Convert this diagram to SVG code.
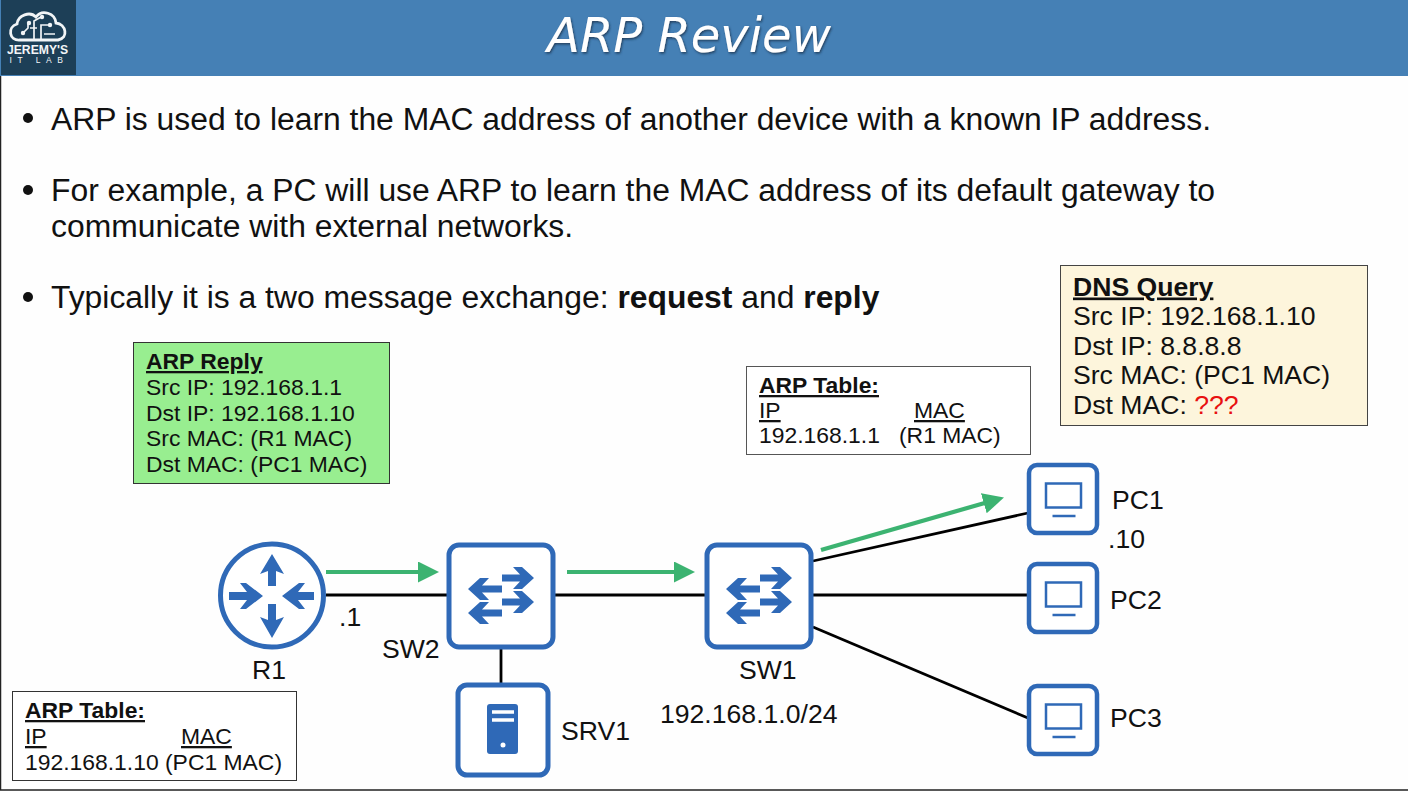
<svg xmlns="http://www.w3.org/2000/svg" width="1408" height="791" viewBox="0 0 1408 791">
<style>
text{font-family:"Liberation Sans",Arial,sans-serif;fill:#111}
.body{font-size:31.85px}
.lbl{font-size:26.6px}
.box{font-size:22.9px}
.dns{font-size:26.6px}
.link{stroke:#000;stroke-width:2.800;fill:none}
.flow{stroke:#3cb371;stroke-width:4.200;fill:none;marker-end:url(#ah)}
.dev{fill:#fff;stroke:#2f69b7;stroke-width:5}
.glyph{fill:#2f69b7}
.u{text-decoration:underline}
.b{font-weight:700}
</style>
<defs>
<filter id="sh" x="-5%" y="-20%" width="110%" height="140%"><feDropShadow dx="1" dy="1.500" stdDeviation="0.800" flood-color="#1d3048" flood-opacity="0.800"/></filter>
<marker id="ah" markerUnits="userSpaceOnUse" markerWidth="22" markerHeight="22" refX="10" refY="10.500" orient="auto"><path d="M0 0L21 10.500L0 21Z" fill="#3cb371"/></marker>
<g id="sw">
<rect x="-52" y="-51" width="104" height="102" rx="10" class="dev"/>
<path class="glyph" d="M-33 -7L-21 -18H-12L-19 -10.500H1V-3.500H-19L-12 4H-21Z"/>
<path class="glyph" d="M-33 17L-21 6H-12L-19 13.500H1V20.500H-19L-12 28H-21Z"/>
<path class="glyph" d="M33 -18L21 -29H12L19 -21.500H1V-14.500H19L12 -7H21Z"/>
<path class="glyph" d="M33 6L21 -5H12L19 2.500H1V9.500H19L12 17H21Z"/>
</g>
<g id="pc">
<rect x="0" y="0" width="68" height="68" rx="8" fill="#fff" stroke="#2f69b7" stroke-width="4.500"/>
<rect x="17" y="18.500" width="35" height="24" fill="#fff" stroke="#2f69b7" stroke-width="2.500"/>
<path d="M23.500 51H46.500" stroke="#2f69b7" stroke-width="2.500"/>
</g>
</defs>
<rect width="1408" height="791" fill="#fefefe"/>
<rect x="0" y="0" width="1408" height="76" fill="#4580b5"/>
<path d="M0.500 76V790H1408" fill="none" stroke="#222" stroke-width="1.500"/>
<g id="logo">
<rect x="1" width="75" height="75" fill="#1d3f57"/>
<path d="M20 40C9 41 7 27 17 24C18 15 30 11 36 17C42 9 55 13 56 23C66 24 69 38 58 40Z" fill="none" stroke="#f2f5f7" stroke-width="2.800"/>
<path d="M23 33L28 28V24M34 40V21L41 17M41 40V25H50M44 34H55M37 28H30" fill="none" stroke="#f2f5f7" stroke-width="1.700"/>
<circle cx="23" cy="33" r="2.200" fill="#f2f5f7"/><circle cx="42" cy="17" r="2.200" fill="#f2f5f7"/><circle cx="50" cy="25" r="2.200" fill="#f2f5f7"/><circle cx="29" cy="23" r="2.200" fill="#f2f5f7"/>
<text x="37.500" y="54" text-anchor="middle" style="fill:#f2f5f7;font-size:12.200px;font-weight:700">JEREMY'S</text>
<text x="39" y="63" text-anchor="middle" style="fill:#f2f5f7;font-size:8.500px;letter-spacing:5.500px">IT LAB</text>
</g>
<text x="689" y="52" text-anchor="middle" filter="url(#sh)" style="fill:#fff;font-family:'DejaVu Sans',sans-serif;font-style:oblique;font-size:48px">ARP Review</text>

<g id="bullets">
<circle cx="28" cy="118" r="5" fill="#111"/><circle cx="28" cy="190" r="5" fill="#111"/><circle cx="28" cy="297" r="5" fill="#111"/>
<text class="body" x="51" y="129.500">ARP is used to learn the MAC address of another device with a known IP address.</text>
<text class="body" x="51" y="200.500">For example, a PC will use ARP to learn the MAC address of its default gateway to</text>
<text class="body" x="51" y="236.500">communicate with external networks.</text>
<text class="body" x="51" y="307.500">Typically it is a two message exchange: <tspan class="b">request</tspan> and <tspan class="b">reply</tspan></text>
</g>

<g id="connectors">
<path class="link" d="M326 595H447"/>
<path class="link" d="M555 595H705"/>
<path class="link" d="M501 649V684"/>
<path class="link" d="M813 561L1028 513"/>
<path class="link" d="M813 595H1028"/>
<path class="link" d="M813 627L1028 718"/>
<path class="flow" d="M326 572H428"/>
<path class="flow" d="M567 572H684"/>
<path class="flow" d="M821 550L993.400 500.500"/>
</g>

<g id="R1">
<circle cx="272" cy="595.500" r="51.500" fill="#fff" stroke="#2f69b7" stroke-width="5"/>
<path class="glyph" d="M272 554L284 574L276 571V586H268V571L260 574Z"/>
<path class="glyph" d="M272 638L284 617L276 620V604H268V620L260 617Z"/>
<path class="glyph" d="M263 596L246 583H240L247 592H229V600H247L240 609H246Z"/>
<path class="glyph" d="M282 596L299 583H305L298 592H314V600H298L305 609H299Z"/>
<text class="lbl" x="252" y="679">R1</text>
</g>
<g id="SW2"><use href="#sw" x="501" y="596"/><text class="lbl" x="382" y="658">SW2</text></g>
<g id="SW1"><use href="#sw" x="759" y="596"/><text class="lbl" x="739" y="679">SW1</text></g>
<g id="SRV1">
<rect x="458" y="685" width="90" height="90" rx="9" class="dev"/>
<rect x="487" y="704" width="31" height="50" rx="3" class="glyph"/>
<path d="M492 712H514M492 720H514" stroke="#fff" stroke-width="3.500"/>
<circle cx="503" cy="745" r="2.500" fill="#fff"/>
<text class="lbl" x="561" y="740">SRV1</text>
</g>
<g id="PC1"><use href="#pc" x="1029" y="465"/><text class="lbl" x="1112" y="509">PC1</text></g>
<g id="PC2"><use href="#pc" x="1029" y="564"/><text class="lbl" x="1110" y="609">PC2</text></g>
<g id="PC3"><use href="#pc" x="1029" y="686"/><text class="lbl" x="1110" y="727">PC3</text></g>

<g id="labels">
<text class="lbl" x="339" y="626">.1</text>
<text class="lbl" x="1108" y="548">.10</text>
<text class="lbl" x="660" y="723">192.168.1.0/24</text>
</g>

<g id="arp-reply">
<rect x="133.500" y="342.500" width="256" height="141" fill="#98ee90" stroke="#333"/>
<text class="box b u" x="146" y="369">ARP Reply</text>
<text class="box" x="146" y="395">Src IP: 192.168.1.1</text>
<text class="box" x="146" y="421">Dst IP: 192.168.1.10</text>
<text class="box" x="146" y="446">Src MAC: (R1 MAC)</text>
<text class="box" x="146" y="472">Dst MAC: (PC1 MAC)</text>
</g>
<g id="arp-table-pc1">
<rect x="746.500" y="366.500" width="284" height="88" fill="#fff" stroke="#555"/>
<text class="box b u" x="759" y="393">ARP Table:</text>
<text class="box u" x="759" y="418">IP</text>
<text class="box u" x="914" y="418">MAC</text>
<text class="box" x="759" y="443">192.168.1.1</text>
<text class="box" x="899" y="443">(R1 MAC)</text>
</g>
<g id="dns-query">
<rect x="1060.500" y="265.500" width="307" height="160" fill="#fdf5dc" stroke="#444"/>
<text class="dns b u" x="1073" y="295.500">DNS Query</text>
<text class="dns" x="1073" y="325">Src IP: 192.168.1.10</text>
<text class="dns" x="1073" y="354.500">Dst IP: 8.8.8.8</text>
<text class="dns" x="1073" y="384">Src MAC: (PC1 MAC)</text>
<text class="dns" x="1073" y="413.500">Dst MAC: <tspan style="fill:#e81010">???</tspan></text>
</g>
<g id="arp-table-r1">
<rect x="12.500" y="691.500" width="284" height="89" fill="#fff" stroke="#333"/>
<text class="box b u" x="25" y="718">ARP Table:</text>
<text class="box u" x="25" y="744">IP</text>
<text class="box u" x="181" y="744">MAC</text>
<text class="box" x="25" y="770">192.168.1.10</text>
<text class="box" x="165" y="770">(PC1 MAC)</text>
</g>
</svg>
